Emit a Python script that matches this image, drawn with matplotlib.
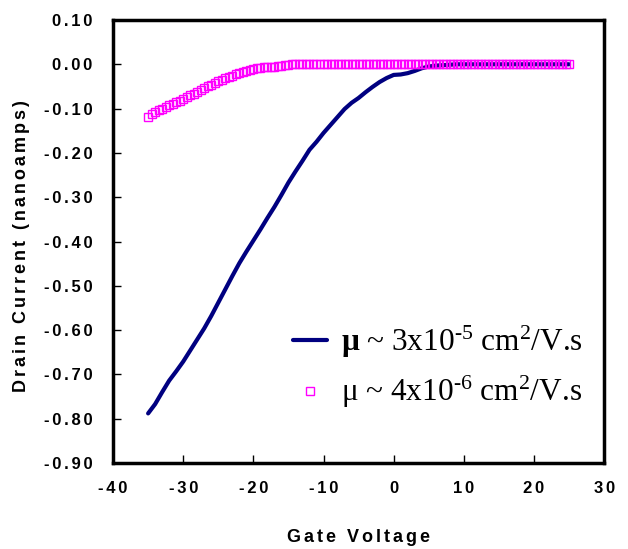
import numpy as np
import matplotlib
matplotlib.use("Agg")
import matplotlib.pyplot as plt
from matplotlib.transforms import IdentityTransform

plt.rcParams['mathtext.fontset'] = 'custom'
plt.rcParams['mathtext.rm'] = 'Liberation Serif'
plt.rcParams['mathtext.it'] = 'Liberation Serif:italic'
plt.rcParams['mathtext.bf'] = 'Liberation Serif:bold'

# Data
gate_v_line = np.arange(-35, 26, 1.0)
current_line = [
    -0.788, -0.767, -0.740, -0.714, -0.693, -0.671, -0.646, -0.621, -0.596, -0.568,
    -0.538, -0.508, -0.478, -0.449, -0.423, -0.398, -0.373, -0.347, -0.322, -0.295,
    -0.267, -0.242, -0.218, -0.193, -0.175, -0.155, -0.137, -0.119, -0.101, -0.087,
    -0.076, -0.063, -0.051, -0.040, -0.031, -0.024, -0.023, -0.020, -0.015, -0.009,
    -0.005, -0.003, -0.002, -0.001, 0.0, 0.0, 0.0, 0.0, 0.0, 0.0,
    0.0, 0.0, 0.0, 0.0, 0.0, 0.0, 0.0, 0.0, 0.0, 0.0, 0.0,
]
gate_v_sq = np.arange(-35, 25.01, 0.5)
current_sq = [
    -0.118, -0.113, -0.108, -0.104, -0.100, -0.096, -0.093, -0.090, -0.086, -0.082,
    -0.078, -0.074, -0.070, -0.066, -0.062, -0.058, -0.054, -0.050, -0.046, -0.042,
    -0.038, -0.035, -0.032, -0.029, -0.026, -0.023, -0.020, -0.017, -0.015, -0.013,
    -0.011, -0.009, -0.008, -0.007, -0.006, -0.006, -0.005, -0.004, -0.003, -0.002,
    -0.001,
    0.0, 0.0, 0.0, 0.0, 0.0, 0.0, 0.0, 0.0, 0.0, 0.0,
    0.0, 0.0, 0.0, 0.0, 0.0, 0.0, 0.0, 0.0, 0.0, 0.0,
    0.0, 0.0, 0.0, 0.0, 0.0, 0.0, 0.0, 0.0, 0.0, 0.0,
    0.0, 0.0, 0.0, 0.0, 0.0, 0.0, 0.0, 0.0, 0.0, 0.0,
    0.0, 0.0, 0.0, 0.0, 0.0, 0.0, 0.0, 0.0, 0.0, 0.0,
    0.0, 0.0, 0.0, 0.0, 0.0, 0.0, 0.0, 0.0, 0.0, 0.0,
    0.0, 0.0, 0.0, 0.0, 0.0, 0.0, 0.0, 0.0, 0.0, 0.0,
    0.0, 0.0, 0.0, 0.0, 0.0, 0.0, 0.0, 0.0, 0.0, 0.0,
]
xticks = [-40, -30, -20, -10, 0, 10, 20, 30]
yticks = [0.10, 0.00, -0.10, -0.20, -0.30, -0.40, -0.50, -0.60, -0.70, -0.80, -0.90]
label_line = r'$\mathbf{μ}$ ~ 3x10$^{\text{-5}}$ cm$^{2}$/V.s'
label_sq = r'μ ~ 4x10$^{\text{-6}}$ cm$^{2}$/V.s'
xlabel = 'Gate Voltage'
ylabel = 'Drain Current (nanoamps)'

SP = '\u2006'
def spaced(s):
    return SP.join(list(s))

SANS = ['Liberation Sans', 'DejaVu Sans']

fig = plt.figure(figsize=(6.28, 5.49), dpi=100)
ax = fig.add_axes([0.180, 0.1566, 0.782, 0.807])

ln, = ax.plot(gate_v_line, current_line, color='#000080', lw=3.0, zorder=2,
              solid_capstyle='round')
sq, = ax.plot(gate_v_sq, current_sq, ls='none', marker='s', ms=6, mfc='none',
              mec='#FF00FF', mew=1.0, zorder=3)

ax.set_xlim(-40, 30)
ax.set_ylim(-0.9, 0.1)
ax.set_xticks(xticks)
ax.set_yticks(yticks)
ax.set_xticklabels([spaced(f'{t}') for t in xticks])
ax.set_yticklabels([spaced(f'{t:.2f}') for t in yticks])
for s in ax.spines.values():
    s.set_linewidth(2.5)
ax.tick_params(direction='in', length=6, width=1, labelsize=12)
ax.tick_params(axis='x', pad=13)
ax.tick_params(axis='y', pad=15)
for lab in ax.get_xticklabels() + ax.get_yticklabels():
    lab.set_fontweight('bold')
    lab.set_family(SANS)

ax.set_xlabel(spaced(xlabel), fontsize=13, fontweight='bold', family=SANS)
ax.set_ylabel(spaced(ylabel), fontsize=13, fontweight='bold', family=SANS)
ax.xaxis.set_label_coords(0.5, -0.148)
ax.yaxis.set_label_coords(-0.17, 0.49)

leg = fig.legend([ln, sq], [label_line, label_sq], loc='upper left',
                 bbox_to_anchor=(293, 549 - 324), bbox_transform=IdentityTransform(),
                 frameon=False, borderpad=0, borderaxespad=0,
                 prop={'family': 'Liberation Serif', 'size': 22.5},
                 handlelength=1.1, handletextpad=0.43, labelspacing=0.45)

fig.savefig('out.png', dpi=100)
